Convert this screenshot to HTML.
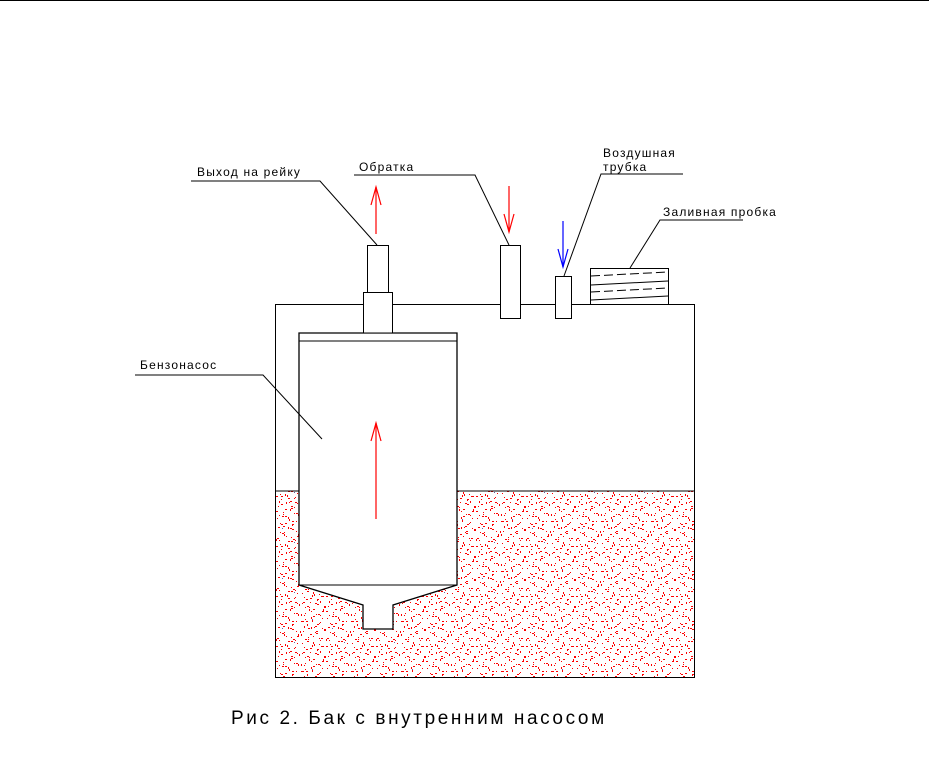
<!DOCTYPE html>
<html><head><meta charset="utf-8"><style>
html,body{margin:0;padding:0;background:#fff;}
svg{display:block;}
text{font-family:"Liberation Sans","DejaVu Sans",sans-serif;fill:#000;}
</style></head><body>
<svg width="929" height="776" viewBox="0 0 929 776" xmlns="http://www.w3.org/2000/svg" shape-rendering="crispEdges">
<defs>
<g id="dd" fill="#f00">
<rect x="3" y="2" width="2" height="1"/><rect x="17" y="4" width="2" height="1"/><rect x="29" y="1" width="1" height="2"/><rect x="41" y="6" width="2" height="1"/><rect x="47" y="3" width="1" height="1"/>
<rect x="9" y="9" width="1" height="2"/><rect x="22" y="11" width="2" height="1"/><rect x="35" y="9" width="2" height="1"/><rect x="44" y="13" width="1" height="1"/><rect x="1" y="14" width="1" height="2"/>
<rect x="13" y="16" width="2" height="1"/><rect x="27" y="18" width="1" height="1"/><rect x="38" y="17" width="1" height="2"/><rect x="6" y="21" width="2" height="1"/><rect x="19" y="23" width="1" height="1"/>
<rect x="31" y="24" width="2" height="1"/><rect x="46" y="21" width="1" height="1"/><rect x="11" y="27" width="1" height="2"/><rect x="24" y="29" width="1" height="2"/><rect x="40" y="28" width="2" height="1"/>
<rect x="3" y="31" width="1" height="1"/><rect x="16" y="33" width="2" height="1"/><rect x="34" y="32" width="1" height="1"/><rect x="48" y="34" width="1" height="2"/><rect x="8" y="37" width="1" height="1"/>
<rect x="21" y="38" width="2" height="1"/><rect x="29" y="40" width="1" height="1"/><rect x="43" y="39" width="2" height="1"/><rect x="2" y="43" width="1" height="1"/><rect x="14" y="44" width="1" height="2"/>
<rect x="26" y="46" width="2" height="1"/><rect x="37" y="45" width="1" height="2"/><rect x="45" y="47" width="1" height="1"/><rect x="10" y="48" width="2" height="1"/><rect x="33" y="14" width="1" height="1"/>
<rect x="5" y="7" width="1" height="1"/><rect x="25" y="6" width="1" height="2"/><rect x="39" y="2" width="1" height="1"/><rect x="15" y="26" width="2" height="1"/><rect x="36" y="36" width="1" height="1"/>
<rect x="20" y="15" width="1" height="1"/><rect x="42" y="24" width="1" height="2"/><rect x="7" y="41" width="2" height="1"/><rect x="30" y="44" width="1" height="1"/><rect x="18" y="49" width="1" height="1"/>
</g>
<pattern id="dots" x="0" y="0" width="50" height="50" patternUnits="userSpaceOnUse">
<use href="#dd"/>
<use href="#dd" transform="translate(50,0) scale(-1,1) translate(0,0)" x="0" y="0"/>
<use href="#dd" transform="translate(25,25)"/><use href="#dd" transform="translate(-25,25)"/><use href="#dd" transform="translate(25,-25)"/><use href="#dd" transform="translate(-25,-25)"/>
<rect x="12" y="19" width="1" height="1" fill="#66a"/><rect x="32" y="28" width="1" height="1" fill="#66a"/><rect x="44" y="42" width="1" height="1" fill="#66a"/>
</pattern>
</defs>
<line x1="0" y1="0.5" x2="929" y2="0.5" stroke="#000" stroke-width="1"/>
<rect x="276" y="491" width="418" height="186" fill="url(#dots)"/>
<g fill="none" stroke="#000" stroke-width="1.3">
<rect x="275.5" y="304.5" width="419" height="373"/>
<line x1="275" y1="491" x2="299" y2="491"/>
<line x1="457" y1="491" x2="694" y2="491"/>
</g>
<polygon points="299,333 457,333 457,585 393,605 393,629 363,629 363,605 299,585" fill="#fff" stroke="#000" stroke-width="1.3" shape-rendering="auto"/>
<g fill="none" stroke="#000" stroke-width="1.3">
<line x1="299" y1="341" x2="457" y2="341"/>
<line x1="299" y1="585" x2="457" y2="585"/>
</g>
<g fill="#fff" stroke="#000" stroke-width="1.3">
<rect x="363.5" y="292.5" width="29" height="40.5"/>
<rect x="367.5" y="245.5" width="21" height="47"/>
<rect x="500.5" y="245.5" width="20" height="73"/>
<rect x="555.5" y="276.5" width="16" height="42"/>
<rect x="590.5" y="268.5" width="78" height="36"/>
</g>
<g stroke="#000" stroke-width="1" fill="none" shape-rendering="auto">
<line x1="591" y1="276" x2="668" y2="272" stroke-dasharray="9,4"/>
<line x1="591" y1="285" x2="668" y2="281"/>
<line x1="591" y1="292" x2="668" y2="288" stroke-dasharray="9,4"/>
<line x1="591" y1="300" x2="668" y2="296"/>
</g>
<g stroke="#f00" stroke-width="1.2" fill="none" shape-rendering="auto">
<line x1="376" y1="234" x2="376" y2="187"/><polyline points="371,205 376,187 381,205"/>
<line x1="509" y1="186" x2="509" y2="232"/><polyline points="504,214 509,232 514,214"/>
<line x1="376" y1="519" x2="376" y2="423"/><polyline points="371,441 376,423 381,441"/>
</g>
<g stroke="#00f" stroke-width="1.2" fill="none" shape-rendering="auto">
<line x1="563" y1="221" x2="563" y2="267"/><polyline points="558,249 563,267 568,249"/>
</g>
<g stroke="#000" stroke-width="1" fill="none" shape-rendering="auto">
<polyline points="191,181 320,181 377,245"/>
<polyline points="354,175 475,175 509,245"/>
<polyline points="683,174 601,174 564,276"/>
<polyline points="743,220 660,220 630,268"/>
<polyline points="135,375 263,375 322,439"/>
</g>
<g font-size="12" letter-spacing="1.2">
<text x="197" y="176">Выход на рейку</text>
<text x="359" y="171">Обратка</text>
<text x="603" y="157">Воздушная</text>
<text x="603" y="171">трубка</text>
<text x="663" y="216">Заливная пробка</text>
<text x="140" y="369">Бензонасос</text>
</g>
<text x="231" y="724" font-size="19" letter-spacing="2.6">Рис 2. Бак с внутренним насосом</text>
</svg>
</body></html>
